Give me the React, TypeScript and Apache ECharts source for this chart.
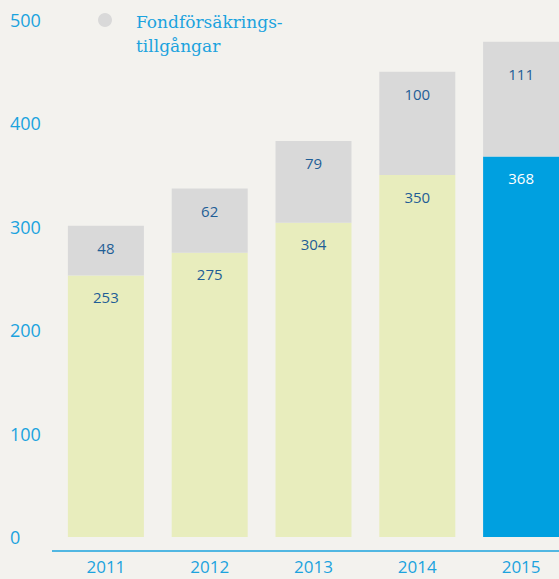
import React, { useEffect, useRef } from "react";
import * as echarts from "echarts";

const years = ["2011", "2012", "2013", "2014", "2015"];
const baseValues = [253, 275, 304, 350, 368];
const fundAssets = [48, 62, 79, 100, 111];
const yTicks = [0, 100, 200, 300, 400, 500];
const legendText = "Fondförsäkrings-\ntillgångar";

const BLUE_TEXT = "#1BA3DE";
const LABEL = "#1F5E96";
const FONT = "'Open Sans', 'Noto Sans', sans-serif";

export default function App() {
  const ref = useRef<HTMLDivElement>(null);
  useEffect(() => {
    if (!ref.current) return;
    const chart = echarts.init(ref.current, null, { renderer: "svg" });
    const last = years.length - 1;
    chart.setOption({
      animation: false,
      backgroundColor: "#F3F2EE",
      grid: {
        left: 54,
        width: 519,
        top: 20,
        height: 517,
        containLabel: false,
        outerBoundsMode: "none",
      },
      xAxis: {
        type: "category",
        data: years,
        axisLine: { show: false },
        axisTick: { show: false },
        axisLabel: { color: BLUE_TEXT, fontSize: 17, fontFamily: FONT, margin: 21 },
      },
      yAxis: {
        type: "value",
        min: yTicks[0],
        max: yTicks[yTicks.length - 1],
        interval: 100,
        splitLine: { show: false },
        axisLine: { show: false },
        axisTick: { show: false },
        axisLabel: {
          color: BLUE_TEXT,
          fontSize: 18,
          fontFamily: FONT,
          align: "left",
          margin: 44,
        },
      },
      graphic: [
        {
          type: "line",
          shape: { x1: 52, y1: 551, x2: 559, y2: 551 },
          style: { stroke: BLUE_TEXT, lineWidth: 1.5 },
        },
        { type: "circle", shape: { cx: 105, cy: 20, r: 7 }, style: { fill: "#D9D9D9" } },
        {
          type: "text",
          left: 136,
          top: 10,
          style: {
            text: legendText,
            fill: BLUE_TEXT,
            font: "17px 'DejaVu Serif', serif",
            lineHeight: 24,
          },
        },
      ],
      series: [
        {
          type: "bar",
          stack: "total",
          barWidth: 76,
          data: baseValues.map((v, i) => ({
            value: v,
            itemStyle: { color: i === last ? "#00A0E0" : "#E8EDBD" },
            label: i === last ? { color: "#FFFFFF" } : undefined,
          })),
          label: {
            show: true,
            position: "insideTop",
            distance: 14,
            color: LABEL,
            fontSize: 15,
            fontFamily: FONT,
          },
        },
        {
          type: "bar",
          stack: "total",
          barWidth: 76,
          itemStyle: { color: "#D9D9D9" },
          data: fundAssets.map((v, i) => ({
            value: v,
            label: i === last ? { distance: 25 } : undefined,
          })),
          label: {
            show: true,
            position: "insideTop",
            distance: 15,
            color: LABEL,
            fontSize: 15,
            fontFamily: FONT,
          },
        },
      ],
    });
    return () => chart.dispose();
  }, []);
  return (
    <div
      ref={ref}
      style={{ position: "fixed", left: 0, top: 0, width: 559, height: 579 }}
    />
  );
}
